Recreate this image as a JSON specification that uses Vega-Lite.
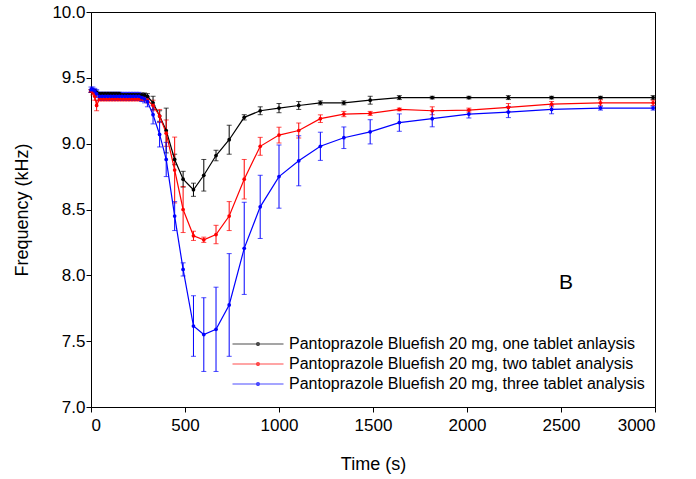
{
  "$schema": "https://vega.github.io/schema/vega-lite/v6.json",
  "width": 564,
  "height": 395,
  "padding": {"left": 91, "top": 12, "right": 41, "bottom": 72},
  "autosize": {"type": "none"},
  "background": "white",
  "config": {
    "font": "Liberation Sans",
    "view": {"stroke": "black", "strokeWidth": 1},
    "axis": {"grid": false, "domainColor": "black", "tickColor": "black", "labelColor": "black", "titleColor": "black", "labelFont": "Liberation Sans", "titleFont": "Liberation Sans", "labelFontSize": 17, "titleFontSize": 18, "titleFontWeight": "normal", "tickSize": 5}
  },
  "datasets": {
    "d": [
      {"s": "Pantoprazole Bluefish 20 mg, one tablet anlaysis", "t": 0, "v": 9.40, "e": 0.01},
      {"s": "Pantoprazole Bluefish 20 mg, one tablet anlaysis", "t": 10, "v": 9.40, "e": 0.01},
      {"s": "Pantoprazole Bluefish 20 mg, one tablet anlaysis", "t": 20, "v": 9.40, "e": 0.01},
      {"s": "Pantoprazole Bluefish 20 mg, one tablet anlaysis", "t": 30, "v": 9.39, "e": 0.01},
      {"s": "Pantoprazole Bluefish 20 mg, one tablet anlaysis", "t": 45, "v": 9.38, "e": 0.01},
      {"s": "Pantoprazole Bluefish 20 mg, one tablet anlaysis", "t": 60, "v": 9.38, "e": 0.01},
      {"s": "Pantoprazole Bluefish 20 mg, one tablet anlaysis", "t": 75, "v": 9.38, "e": 0.01},
      {"s": "Pantoprazole Bluefish 20 mg, one tablet anlaysis", "t": 90, "v": 9.38, "e": 0.01},
      {"s": "Pantoprazole Bluefish 20 mg, one tablet anlaysis", "t": 105, "v": 9.38, "e": 0.01},
      {"s": "Pantoprazole Bluefish 20 mg, one tablet anlaysis", "t": 120, "v": 9.38, "e": 0.01},
      {"s": "Pantoprazole Bluefish 20 mg, one tablet anlaysis", "t": 135, "v": 9.38, "e": 0.01},
      {"s": "Pantoprazole Bluefish 20 mg, one tablet anlaysis", "t": 150, "v": 9.38, "e": 0.01},
      {"s": "Pantoprazole Bluefish 20 mg, one tablet anlaysis", "t": 165, "v": 9.37, "e": 0.01},
      {"s": "Pantoprazole Bluefish 20 mg, one tablet anlaysis", "t": 180, "v": 9.37, "e": 0.01},
      {"s": "Pantoprazole Bluefish 20 mg, one tablet anlaysis", "t": 195, "v": 9.37, "e": 0.01},
      {"s": "Pantoprazole Bluefish 20 mg, one tablet anlaysis", "t": 210, "v": 9.37, "e": 0.01},
      {"s": "Pantoprazole Bluefish 20 mg, one tablet anlaysis", "t": 225, "v": 9.37, "e": 0.01},
      {"s": "Pantoprazole Bluefish 20 mg, one tablet anlaysis", "t": 240, "v": 9.37, "e": 0.01},
      {"s": "Pantoprazole Bluefish 20 mg, one tablet anlaysis", "t": 255, "v": 9.37, "e": 0.01},
      {"s": "Pantoprazole Bluefish 20 mg, one tablet anlaysis", "t": 270, "v": 9.37, "e": 0.015},
      {"s": "Pantoprazole Bluefish 20 mg, one tablet anlaysis", "t": 285, "v": 9.37, "e": 0.015},
      {"s": "Pantoprazole Bluefish 20 mg, one tablet anlaysis", "t": 300, "v": 9.36, "e": 0.02},
      {"s": "Pantoprazole Bluefish 20 mg, one tablet anlaysis", "t": 330, "v": 9.31, "e": 0.05},
      {"s": "Pantoprazole Bluefish 20 mg, one tablet anlaysis", "t": 365, "v": 9.21, "e": 0.04},
      {"s": "Pantoprazole Bluefish 20 mg, one tablet anlaysis", "t": 400, "v": 9.10, "e": 0.17},
      {"s": "Pantoprazole Bluefish 20 mg, one tablet anlaysis", "t": 445, "v": 8.88, "e": 0.04},
      {"s": "Pantoprazole Bluefish 20 mg, one tablet anlaysis", "t": 490, "v": 8.73, "e": 0.06},
      {"s": "Pantoprazole Bluefish 20 mg, one tablet anlaysis", "t": 545, "v": 8.65, "e": 0.05},
      {"s": "Pantoprazole Bluefish 20 mg, one tablet anlaysis", "t": 600, "v": 8.76, "e": 0.12},
      {"s": "Pantoprazole Bluefish 20 mg, one tablet anlaysis", "t": 665, "v": 8.91, "e": 0.04},
      {"s": "Pantoprazole Bluefish 20 mg, one tablet anlaysis", "t": 735, "v": 9.03, "e": 0.11},
      {"s": "Pantoprazole Bluefish 20 mg, one tablet anlaysis", "t": 815, "v": 9.20, "e": 0.02},
      {"s": "Pantoprazole Bluefish 20 mg, one tablet anlaysis", "t": 900, "v": 9.25, "e": 0.03},
      {"s": "Pantoprazole Bluefish 20 mg, one tablet anlaysis", "t": 1000, "v": 9.27, "e": 0.035},
      {"s": "Pantoprazole Bluefish 20 mg, one tablet anlaysis", "t": 1105, "v": 9.29, "e": 0.03},
      {"s": "Pantoprazole Bluefish 20 mg, one tablet anlaysis", "t": 1220, "v": 9.31, "e": 0.015},
      {"s": "Pantoprazole Bluefish 20 mg, one tablet anlaysis", "t": 1345, "v": 9.31, "e": 0.015},
      {"s": "Pantoprazole Bluefish 20 mg, one tablet anlaysis", "t": 1485, "v": 9.33, "e": 0.03},
      {"s": "Pantoprazole Bluefish 20 mg, one tablet anlaysis", "t": 1640, "v": 9.35, "e": 0.015},
      {"s": "Pantoprazole Bluefish 20 mg, one tablet anlaysis", "t": 1815, "v": 9.35, "e": 0.01},
      {"s": "Pantoprazole Bluefish 20 mg, one tablet anlaysis", "t": 2010, "v": 9.35, "e": 0.01},
      {"s": "Pantoprazole Bluefish 20 mg, one tablet anlaysis", "t": 2220, "v": 9.35, "e": 0.015},
      {"s": "Pantoprazole Bluefish 20 mg, one tablet anlaysis", "t": 2450, "v": 9.35, "e": 0.01},
      {"s": "Pantoprazole Bluefish 20 mg, one tablet anlaysis", "t": 2710, "v": 9.35, "e": 0.01},
      {"s": "Pantoprazole Bluefish 20 mg, one tablet anlaysis", "t": 2990, "v": 9.35, "e": 0.015},

      {"s": "Pantoprazole Bluefish 20 mg, two tablet analysis", "t": 0, "v": 9.40, "e": 0.01},
      {"s": "Pantoprazole Bluefish 20 mg, two tablet analysis", "t": 10, "v": 9.39, "e": 0.02},
      {"s": "Pantoprazole Bluefish 20 mg, two tablet analysis", "t": 20, "v": 9.36, "e": 0.03},
      {"s": "Pantoprazole Bluefish 20 mg, two tablet analysis", "t": 30, "v": 9.29, "e": 0.04},
      {"s": "Pantoprazole Bluefish 20 mg, two tablet analysis", "t": 45, "v": 9.34, "e": 0.015},
      {"s": "Pantoprazole Bluefish 20 mg, two tablet analysis", "t": 60, "v": 9.34, "e": 0.015},
      {"s": "Pantoprazole Bluefish 20 mg, two tablet analysis", "t": 75, "v": 9.34, "e": 0.015},
      {"s": "Pantoprazole Bluefish 20 mg, two tablet analysis", "t": 90, "v": 9.34, "e": 0.015},
      {"s": "Pantoprazole Bluefish 20 mg, two tablet analysis", "t": 105, "v": 9.34, "e": 0.015},
      {"s": "Pantoprazole Bluefish 20 mg, two tablet analysis", "t": 120, "v": 9.34, "e": 0.015},
      {"s": "Pantoprazole Bluefish 20 mg, two tablet analysis", "t": 135, "v": 9.34, "e": 0.015},
      {"s": "Pantoprazole Bluefish 20 mg, two tablet analysis", "t": 150, "v": 9.34, "e": 0.015},
      {"s": "Pantoprazole Bluefish 20 mg, two tablet analysis", "t": 165, "v": 9.34, "e": 0.015},
      {"s": "Pantoprazole Bluefish 20 mg, two tablet analysis", "t": 180, "v": 9.34, "e": 0.015},
      {"s": "Pantoprazole Bluefish 20 mg, two tablet analysis", "t": 195, "v": 9.34, "e": 0.015},
      {"s": "Pantoprazole Bluefish 20 mg, two tablet analysis", "t": 210, "v": 9.34, "e": 0.015},
      {"s": "Pantoprazole Bluefish 20 mg, two tablet analysis", "t": 225, "v": 9.34, "e": 0.015},
      {"s": "Pantoprazole Bluefish 20 mg, two tablet analysis", "t": 240, "v": 9.34, "e": 0.015},
      {"s": "Pantoprazole Bluefish 20 mg, two tablet analysis", "t": 255, "v": 9.34, "e": 0.015},
      {"s": "Pantoprazole Bluefish 20 mg, two tablet analysis", "t": 270, "v": 9.34, "e": 0.015},
      {"s": "Pantoprazole Bluefish 20 mg, two tablet analysis", "t": 285, "v": 9.34, "e": 0.015},
      {"s": "Pantoprazole Bluefish 20 mg, two tablet analysis", "t": 300, "v": 9.33, "e": 0.02},
      {"s": "Pantoprazole Bluefish 20 mg, two tablet analysis", "t": 330, "v": 9.29, "e": 0.04},
      {"s": "Pantoprazole Bluefish 20 mg, two tablet analysis", "t": 365, "v": 9.21, "e": 0.05},
      {"s": "Pantoprazole Bluefish 20 mg, two tablet analysis", "t": 400, "v": 9.08, "e": 0.10},
      {"s": "Pantoprazole Bluefish 20 mg, two tablet analysis", "t": 445, "v": 8.80, "e": 0.25},
      {"s": "Pantoprazole Bluefish 20 mg, two tablet analysis", "t": 490, "v": 8.50, "e": 0.175},
      {"s": "Pantoprazole Bluefish 20 mg, two tablet analysis", "t": 545, "v": 8.30, "e": 0.035},
      {"s": "Pantoprazole Bluefish 20 mg, two tablet analysis", "t": 600, "v": 8.27, "e": 0.02},
      {"s": "Pantoprazole Bluefish 20 mg, two tablet analysis", "t": 665, "v": 8.31, "e": 0.07},
      {"s": "Pantoprazole Bluefish 20 mg, two tablet analysis", "t": 735, "v": 8.45, "e": 0.11},
      {"s": "Pantoprazole Bluefish 20 mg, two tablet analysis", "t": 815, "v": 8.73, "e": 0.15},
      {"s": "Pantoprazole Bluefish 20 mg, two tablet analysis", "t": 900, "v": 8.98, "e": 0.068},
      {"s": "Pantoprazole Bluefish 20 mg, two tablet analysis", "t": 1000, "v": 9.065, "e": 0.06},
      {"s": "Pantoprazole Bluefish 20 mg, two tablet analysis", "t": 1105, "v": 9.10, "e": 0.057},
      {"s": "Pantoprazole Bluefish 20 mg, two tablet analysis", "t": 1220, "v": 9.19, "e": 0.029},
      {"s": "Pantoprazole Bluefish 20 mg, two tablet analysis", "t": 1345, "v": 9.225, "e": 0.02},
      {"s": "Pantoprazole Bluefish 20 mg, two tablet analysis", "t": 1485, "v": 9.23, "e": 0.015},
      {"s": "Pantoprazole Bluefish 20 mg, two tablet analysis", "t": 1640, "v": 9.26, "e": 0.01},
      {"s": "Pantoprazole Bluefish 20 mg, two tablet analysis", "t": 1815, "v": 9.25, "e": 0.03},
      {"s": "Pantoprazole Bluefish 20 mg, two tablet analysis", "t": 2010, "v": 9.255, "e": 0.015},
      {"s": "Pantoprazole Bluefish 20 mg, two tablet analysis", "t": 2220, "v": 9.275, "e": 0.03},
      {"s": "Pantoprazole Bluefish 20 mg, two tablet analysis", "t": 2450, "v": 9.30, "e": 0.02},
      {"s": "Pantoprazole Bluefish 20 mg, two tablet analysis", "t": 2710, "v": 9.31, "e": 0.023},
      {"s": "Pantoprazole Bluefish 20 mg, two tablet analysis", "t": 2990, "v": 9.31, "e": 0.02},

      {"s": "Pantoprazole Bluefish 20 mg, three tablet analysis", "t": 0, "v": 9.41, "e": 0.02},
      {"s": "Pantoprazole Bluefish 20 mg, three tablet analysis", "t": 10, "v": 9.41, "e": 0.02},
      {"s": "Pantoprazole Bluefish 20 mg, three tablet analysis", "t": 20, "v": 9.40, "e": 0.02},
      {"s": "Pantoprazole Bluefish 20 mg, three tablet analysis", "t": 30, "v": 9.38, "e": 0.03},
      {"s": "Pantoprazole Bluefish 20 mg, three tablet analysis", "t": 45, "v": 9.36, "e": 0.03},
      {"s": "Pantoprazole Bluefish 20 mg, three tablet analysis", "t": 60, "v": 9.36, "e": 0.03},
      {"s": "Pantoprazole Bluefish 20 mg, three tablet analysis", "t": 75, "v": 9.36, "e": 0.03},
      {"s": "Pantoprazole Bluefish 20 mg, three tablet analysis", "t": 90, "v": 9.36, "e": 0.03},
      {"s": "Pantoprazole Bluefish 20 mg, three tablet analysis", "t": 105, "v": 9.36, "e": 0.03},
      {"s": "Pantoprazole Bluefish 20 mg, three tablet analysis", "t": 120, "v": 9.36, "e": 0.03},
      {"s": "Pantoprazole Bluefish 20 mg, three tablet analysis", "t": 135, "v": 9.36, "e": 0.03},
      {"s": "Pantoprazole Bluefish 20 mg, three tablet analysis", "t": 150, "v": 9.36, "e": 0.03},
      {"s": "Pantoprazole Bluefish 20 mg, three tablet analysis", "t": 165, "v": 9.36, "e": 0.03},
      {"s": "Pantoprazole Bluefish 20 mg, three tablet analysis", "t": 180, "v": 9.36, "e": 0.03},
      {"s": "Pantoprazole Bluefish 20 mg, three tablet analysis", "t": 195, "v": 9.36, "e": 0.03},
      {"s": "Pantoprazole Bluefish 20 mg, three tablet analysis", "t": 210, "v": 9.36, "e": 0.03},
      {"s": "Pantoprazole Bluefish 20 mg, three tablet analysis", "t": 225, "v": 9.36, "e": 0.03},
      {"s": "Pantoprazole Bluefish 20 mg, three tablet analysis", "t": 240, "v": 9.36, "e": 0.03},
      {"s": "Pantoprazole Bluefish 20 mg, three tablet analysis", "t": 255, "v": 9.36, "e": 0.03},
      {"s": "Pantoprazole Bluefish 20 mg, three tablet analysis", "t": 270, "v": 9.35, "e": 0.03},
      {"s": "Pantoprazole Bluefish 20 mg, three tablet analysis", "t": 285, "v": 9.34, "e": 0.03},
      {"s": "Pantoprazole Bluefish 20 mg, three tablet analysis", "t": 300, "v": 9.32, "e": 0.04},
      {"s": "Pantoprazole Bluefish 20 mg, three tablet analysis", "t": 330, "v": 9.22, "e": 0.07},
      {"s": "Pantoprazole Bluefish 20 mg, three tablet analysis", "t": 365, "v": 9.07, "e": 0.095},
      {"s": "Pantoprazole Bluefish 20 mg, three tablet analysis", "t": 400, "v": 8.88, "e": 0.13},
      {"s": "Pantoprazole Bluefish 20 mg, three tablet analysis", "t": 445, "v": 8.45, "e": 0.11},
      {"s": "Pantoprazole Bluefish 20 mg, three tablet analysis", "t": 490, "v": 8.045, "e": 0.05},
      {"s": "Pantoprazole Bluefish 20 mg, three tablet analysis", "t": 545, "v": 7.615, "e": 0.23},
      {"s": "Pantoprazole Bluefish 20 mg, three tablet analysis", "t": 600, "v": 7.55, "e": 0.28},
      {"s": "Pantoprazole Bluefish 20 mg, three tablet analysis", "t": 665, "v": 7.59, "e": 0.32},
      {"s": "Pantoprazole Bluefish 20 mg, three tablet analysis", "t": 735, "v": 7.775, "e": 0.39},
      {"s": "Pantoprazole Bluefish 20 mg, three tablet analysis", "t": 815, "v": 8.205, "e": 0.35},
      {"s": "Pantoprazole Bluefish 20 mg, three tablet analysis", "t": 900, "v": 8.52, "e": 0.24},
      {"s": "Pantoprazole Bluefish 20 mg, three tablet analysis", "t": 1000, "v": 8.75, "e": 0.24},
      {"s": "Pantoprazole Bluefish 20 mg, three tablet analysis", "t": 1105, "v": 8.87, "e": 0.19},
      {"s": "Pantoprazole Bluefish 20 mg, three tablet analysis", "t": 1220, "v": 8.98, "e": 0.107},
      {"s": "Pantoprazole Bluefish 20 mg, three tablet analysis", "t": 1345, "v": 9.045, "e": 0.082},
      {"s": "Pantoprazole Bluefish 20 mg, three tablet analysis", "t": 1485, "v": 9.09, "e": 0.092},
      {"s": "Pantoprazole Bluefish 20 mg, three tablet analysis", "t": 1640, "v": 9.16, "e": 0.066},
      {"s": "Pantoprazole Bluefish 20 mg, three tablet analysis", "t": 1815, "v": 9.19, "e": 0.062},
      {"s": "Pantoprazole Bluefish 20 mg, three tablet analysis", "t": 2010, "v": 9.225, "e": 0.03},
      {"s": "Pantoprazole Bluefish 20 mg, three tablet analysis", "t": 2220, "v": 9.24, "e": 0.042},
      {"s": "Pantoprazole Bluefish 20 mg, three tablet analysis", "t": 2450, "v": 9.26, "e": 0.033},
      {"s": "Pantoprazole Bluefish 20 mg, three tablet analysis", "t": 2710, "v": 9.27, "e": 0.015},
      {"s": "Pantoprazole Bluefish 20 mg, three tablet analysis", "t": 2990, "v": 9.27, "e": 0.015}
    ],
    "label": [{"t": 2527, "v": 7.94, "text": "B"}]
  },
  "layer": [
    {
      "data": {"name": "d"},
      "mark": {"type": "errorbar", "ticks": {"size": 5}, "thickness": 1},
      "encoding": {
        "x": {"field": "t", "type": "quantitative", "title": "Time (s)"},
        "y": {"field": "v", "type": "quantitative", "title": "Frequency (kHz)"},
        "yError": {"field": "e"},
        "color": {"field": "s", "type": "nominal"}
      }
    },
    {
      "data": {"name": "d"},
      "mark": {"type": "line", "strokeWidth": 1.2},
      "encoding": {
        "x": {"field": "t", "type": "quantitative", "scale": {"domain": [0, 3000], "nice": false}, "axis": {"values": [0, 500, 1000, 1500, 2000, 2500, 3000], "format": "d", "title": "Time (s)", "titlePadding": 22, "labelPadding": 5}},
        "y": {"field": "v", "type": "quantitative", "scale": {"domain": [7, 10], "nice": false, "zero": false}, "axis": {"values": [7, 7.5, 8, 8.5, 9, 9.5, 10], "format": ".1f", "title": "Frequency (kHz)", "titlePadding": 20, "labelPadding": 1}},
        "color": {
          "field": "s", "type": "nominal",
          "scale": {"domain": ["Pantoprazole Bluefish 20 mg, one tablet anlaysis", "Pantoprazole Bluefish 20 mg, two tablet analysis", "Pantoprazole Bluefish 20 mg, three tablet analysis"], "range": ["#000000", "#ff0000", "#0000ff"]},
          "legend": {"orient": "none", "legendX": 156, "legendY": 321, "title": null, "symbolType": "M-2.55,0H2.55M-0.15,0A0.15,0.15 0 1,0 0.15,0A0.15,0.15 0 1,0 -0.15,0", "symbolSize": 400, "symbolStrokeWidth": 1.2, "labelFontSize": 16, "labelFont": "Liberation Sans", "labelColor": "black", "labelLimit": 400, "rowPadding": 1, "labelOffset": 20}
        }
      }
    },
    {
      "data": {"name": "d"},
      "mark": {"type": "point", "filled": true, "size": 14, "opacity": 1},
      "encoding": {
        "x": {"field": "t", "type": "quantitative", "title": "Time (s)"},
        "y": {"field": "v", "type": "quantitative", "title": "Frequency (kHz)"},
        "color": {"field": "s", "type": "nominal"}
      }
    },
    {
      "data": {"name": "label"},
      "mark": {"type": "text", "fontSize": 21, "font": "Liberation Sans", "color": "black"},
      "encoding": {
        "x": {"field": "t", "type": "quantitative", "title": "Time (s)"},
        "y": {"field": "v", "type": "quantitative", "title": "Frequency (kHz)"},
        "text": {"field": "text"}
      }
    }
  ]
}
